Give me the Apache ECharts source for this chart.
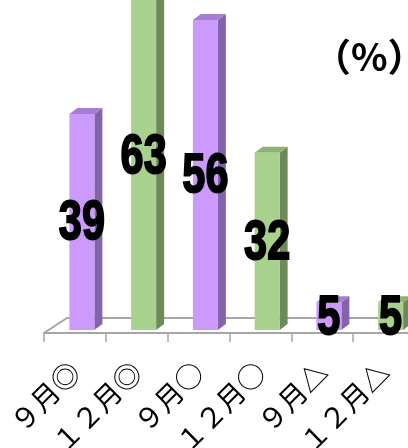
<!DOCTYPE html>
<html>
<head>
<meta charset="utf-8">
<script src="https://cdn.jsdelivr.net/npm/echarts@6/dist/echarts.min.js"></script>
<style>
  html, body { margin: 0; padding: 0; background: #fff; }
  #main { width: 408px; height: 448px; }
</style>
</head>
<body>
<div id="main"></div>
<script>
// カテゴリと値
const categories = ['９月◎', '１２月◎', '９月○', '１２月○', '９月△', '１２月△'];
const values = [39, 63, 56, 32, 5, 5];
const kinds = ['sep', 'dec', 'sep', 'dec', 'sep', 'dec'];

const colors = {
  sep: { front: '#CC99FF', side: '#8464A8', top: '#A47ED0' },
  dec: { front: '#A9D18E', side: '#6E8A58', top: '#8FB274' }
};

const BAR_W = 25;
const SIDE_W = 8;
const DEPTH = 6;

const chart = echarts.init(document.getElementById('main'));

const option = {
  animation: false,
  backgroundColor: '#fff',
  grid: [
    // 床・軸ラベル用
    { left: 44, width: 371, top: 0, bottom: 115, outerBoundsMode: 'none' },
    // 棒用（奥行き分ずらす）
    { left: 51, width: 370.5, top: 0, bottom: 118, outerBoundsMode: 'none' }
  ],
  xAxis: [
    {
      gridIndex: 0,
      type: 'category',
      data: categories,
      axisLine: { lineStyle: { color: '#A6A6A6', width: 2 } },
      axisTick: { show: true, length: 9, lineStyle: { color: '#A6A6A6', width: 1.5 } },
      axisLabel: {
        interval: 0,
        rotate: 45,
        margin: 34,
        fontFamily: 'Noto Sans CJK JP',
        fontSize: 28,
        color: '#000'
      }
    },
    { gridIndex: 1, type: 'category', data: categories, show: false }
  ],
  yAxis: [
    { gridIndex: 0, type: 'value', show: false, min: 0, max: 100 },
    { gridIndex: 1, type: 'value', show: false, min: 0, max: 59.6 }
  ],
  graphic: [
    {
      type: 'polyline',
      z: 0,
      shape: { points: [[44, 333], [67, 318], [420, 318]] },
      style: { stroke: '#A6A6A6', lineWidth: 2, fill: null }
    },
    {
      type: 'text',
      x: 313,
      y: 38,
      style: {
        text: '（%）',
        font: 'bold 38px "Noto Sans CJK JP"',
        fill: '#000'
      }
    }
  ],
  series: [
    {
      type: 'custom',
      xAxisIndex: 1,
      yAxisIndex: 1,
      z: 1,
      clip: false,
      data: values.map((v, i) => [i, v]),
      renderItem: function (params, api) {
        const idx = api.value(0);
        const top = api.coord([idx, api.value(1)]);
        const bot = api.coord([idx, 0]);
        const c = colors[kinds[idx]];
        const xl = top[0] - BAR_W / 2;
        const xr = top[0] + BAR_W / 2;
        return {
          type: 'group',
          children: [
            {
              type: 'polygon',
              shape: { points: [[xr, top[1]], [xr + SIDE_W, top[1] - DEPTH], [xr + SIDE_W, bot[1] - DEPTH], [xr, bot[1]]] },
              style: { fill: c.side }
            },
            {
              type: 'polygon',
              shape: { points: [[xl, top[1]], [xr, top[1]], [xr + SIDE_W, top[1] - DEPTH], [xl + SIDE_W, top[1] - DEPTH]] },
              style: { fill: c.top }
            }
          ]
        };
      }
    },
    {
      type: 'bar',
      xAxisIndex: 1,
      yAxisIndex: 1,
      z: 2,
      clip: false,
      barWidth: BAR_W,
      data: values.map((v, i) => ({ value: v, itemStyle: { color: colors[kinds[i]].front } }))
    },
    {
      // 数値ラベル（縦長の太字）
      type: 'custom',
      xAxisIndex: 1,
      yAxisIndex: 1,
      z: 3,
      clip: false,
      data: values.map((v, i) => [i, v]),
      renderItem: function (params, api) {
        const idx = api.value(0);
        const v = api.value(1);
        const top = api.coord([idx, v]);
        const bot = api.coord([idx, 0]);
        return {
          type: 'text',
          x: top[0],
          y: (top[1] + bot[1]) / 2 + 2,
          scaleX: 0.74,
          scaleY: 1,
          style: {
            text: String(v),
            font: 'bold 56px "Liberation Sans"',
            fill: '#000',
            stroke: '#000',
            lineWidth: 2,
            align: 'center',
            verticalAlign: 'middle'
          }
        };
      }
    }
  ]
};

chart.setOption(option);
</script>
</body>
</html>
